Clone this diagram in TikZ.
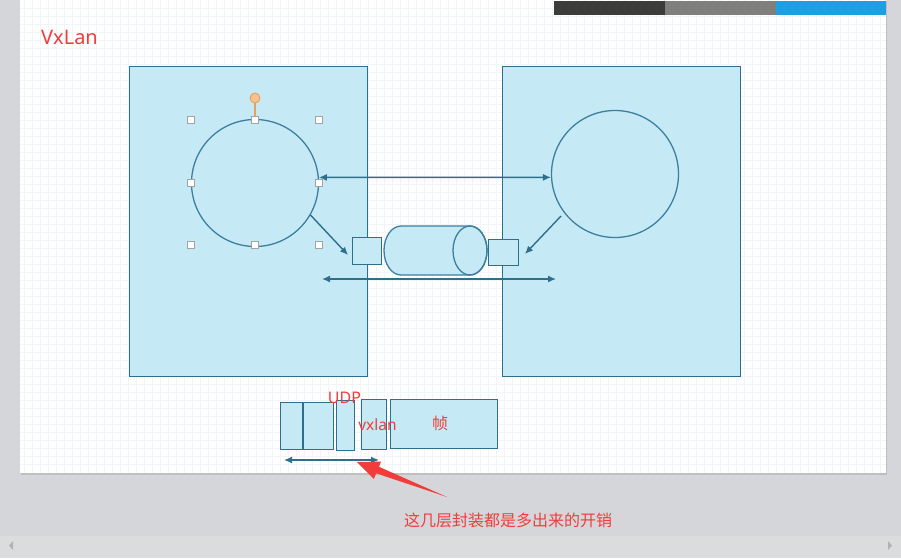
\documentclass[tikz,border=0pt]{standalone}
\usepackage{fontspec}
\setmainfont{Noto Sans}
\newfontfamily\cjk{Noto Sans CJK SC}
\usetikzlibrary{arrows.meta}
\definecolor{bg}{HTML}{D4D6D9}
\definecolor{bgstrip}{HTML}{DADCDE}
\definecolor{slidegrid}{HTML}{F1F5F7}
\definecolor{boxfill}{HTML}{C6E9F6}
\definecolor{boxline}{HTML}{2E6F8C}
\definecolor{circline}{HTML}{3D7F9C}
\definecolor{redtxt}{HTML}{F23C3C}
\definecolor{bara}{HTML}{3C3D3A}
\definecolor{barb}{HTML}{7F807E}
\definecolor{barc}{HTML}{1E9FE3}
\definecolor{handlec}{HTML}{A3A3A3}
\definecolor{orangef}{HTML}{F8C28E}
\definecolor{oranged}{HTML}{E9A05C}
\tikzset{
  bigbox/.style={draw=boxline, fill=boxfill, line width=1.2pt, minimum width=238pt, minimum height=310pt, inner sep=0, anchor=north west},
  circ/.style={circle, draw=circline, fill=boxfill, line width=1.3pt, inner sep=0},
  smallbox/.style={draw=boxline, fill=boxfill, line width=1.2pt, inner sep=0, anchor=north west},
  hdl/.style={draw=handlec, fill=white, line width=0.7pt, minimum size=7pt, inner sep=0},
  conn/.style={draw=boxline, line width=1.4pt, -{Latex[length=8pt,width=7pt]}},
  dconn/.style={draw=boxline, line width=1.4pt, {Latex[length=8pt,width=7pt]}-{Latex[length=8pt,width=7pt]}},
  redlbl/.style={text=redtxt, inner sep=0}
}
\begin{document}
\begin{tikzpicture}[x=1pt,y=-1pt]
% background
\fill[bg] (0,0) rectangle (901,558);
\useasboundingbox (0,0) rectangle (901,558);
\fill[bgstrip] (0,536) rectangle (901,558);
\fill[gray!60] (13,541) -- (13,550) -- (9,545.5) -- cycle;
\fill[gray!60] (888,541) -- (888,550) -- (892,545.5) -- cycle;
% slide
\fill[black!25] (21,1) rectangle (887,475);
\fill[white] (20,0) rectangle (886,473);
\foreach \gx in {24,32,...,880} \draw[slidegrid, line width=0.35pt] (\gx,0) -- (\gx,473);
\foreach \gy in {8,16,...,470} \draw[slidegrid, line width=0.35pt] (20,\gy) -- (886,\gy);
% top bars
\fill[bara] (554,1) rectangle (665,15);
\fill[barb] (665,1) rectangle (776,15);
\fill[barc] (776,1) rectangle (886,15);
% title
\node[redlbl, anchor=west, font=\fontsize{20}{23}\selectfont] (title) at (41,37) {VxLan};
% big boxes
\node[bigbox] (lbox) at (129,66) {};
\node[bigbox] (rbox) at (502,66) {};
% circles
\node[circ, minimum size=127pt] (lc) at (255,183) {};
\node[circ, minimum size=127pt] (rc) at (615,174) {};
% selection handles
\draw[oranged, line width=1.2pt] (255,103) -- (255,118);
\node[circle, draw=oranged, fill=orangef, line width=0.9pt, minimum size=10pt, inner sep=0] (rot) at (255,98) {};
\foreach \px/\py [count=\i] in {191/120,255/120,319/120,191/183,319/183,191/245,255/245,319/245}
  \node[hdl] (h\i) at (\px,\py) {};
% small squares
\node[smallbox, minimum width=29pt, minimum height=27pt] (lsq) at (352,237) {};
\node[smallbox, minimum width=30pt, minimum height=26pt] (rsq) at (488,239) {};
% cylinder (tunnel)
\coordinate (cyl) at (435.5,250.5);
\filldraw[fill=boxfill, draw=circline, line width=1.3pt] (470,226) -- (401,226) arc (270:90:17 and 24.5) -- (470,275) arc (90:-90:17 and 24.5) -- cycle;
\draw[circline, line width=1.3pt] (470,250.5) ellipse (17 and 24.5);
% connectors
\coordinate (lbend) at (348,255);
\coordinate (rbend) at (525,254);
\coordinate (rdstart) at (561,216);
\coordinate (ha) at (322,279);
\coordinate (hb) at (556,279);
\draw[dconn] (lc.5) -- (rc.183);
\draw[conn] (lc.-30) -- (lbend);
\draw[conn] (rdstart) -- (rbend);
\draw[dconn] (ha) -- (hb);
% bottom frame boxes
\node[smallbox, minimum width=22pt, minimum height=47pt] (b1) at (280,402) {};
\node[smallbox, minimum width=31pt, minimum height=47pt] (b2) at (302,402) {};
\draw[boxline, line width=1.8pt] (b1.north east) -- (b1.south east);
\node[smallbox, minimum width=18pt, minimum height=50pt] (b3) at (336,400) {};
\node[smallbox, minimum width=25pt, minimum height=50pt] (b4) at (361,399) {};
\node[smallbox, minimum width=107pt, minimum height=49pt] (b5) at (390,399) {};
\node[redlbl, font=\fontsize{16}{18}\selectfont] (udp) at (344.5,398) {UDP};
\node[redlbl, font=\fontsize{15.5}{18}\selectfont] (vx) at (377.5,425) {vxlan};
\node[redlbl, font=\cjk\fontsize{16}{18}\selectfont] (zhen) at (440,423) {帧};
\coordinate (ba) at (284,460);
\coordinate (bb) at (379,460);
\draw[dconn] (ba) -- (bb);
% red pointer arrow
\coordinate (tip) at (357,462);
\coordinate (tail) at (447,497);
\fill[redtxt] (tip) -- (381,461.5) -- (379,466.8) -- (tail) -- (376.2,473.3) -- (373.8,479) -- cycle;
\node[redlbl, font=\cjk\fontsize{16}{18}\selectfont] (note) at (508,520) {这几层封装都是多出来的开销};
\end{tikzpicture}
\end{document}
